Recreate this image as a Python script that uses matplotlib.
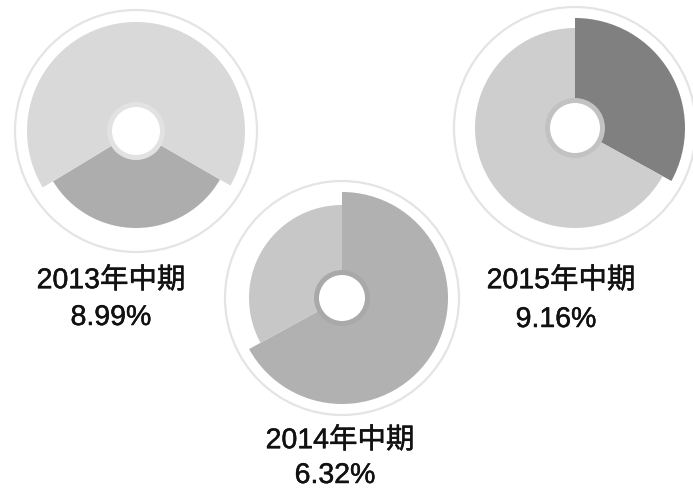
import matplotlib
matplotlib.use("Agg")
import matplotlib.pyplot as plt
import matplotlib.patheffects as pe
from matplotlib.patches import Circle

# ---- data ----
periods = ["2013年中期", "2014年中期", "2015年中期"]
rates = ["8.99%", "6.32%", "9.16%"]
# shares of the two sectors in each ring: [highlighted, rest]
shares = [[33, 67], [67, 33], [33, 67]]

# ---- styling / layout ----
W, H = 693, 491
fig = plt.figure(figsize=(W / 100, H / 100), dpi=100)
ax = fig.add_axes([0, 0, 1, 1])

centers = [(136, H - 131), (342, H - 298), (575, H - 128)]
start_angles = [330, 90, 90]
hi_colors = ["#adadad", "#b1b1b1", "#808080"]
rest_colors = ["#d9d9d9", "#c7c7c7", "#cecece"]
hi_radius = [97, 106, 110]
rest_radius = [109, 93, 100]
outer_radius = [121, 117, 121]
halo_colors = ["#e2e2e2", "#a9a9a9", "#c2c2c2"]
hole_radius = [24, 23, 25]
label_pos = [((111, H - 281), (111, H - 318)),
             ((340, H - 441), (335, H - 476)),
             ((561, H - 281), (556, H - 320))]

font = ["Liberation Sans", "Noto Sans CJK SC"]
stroke = [pe.withStroke(linewidth=0.35, foreground="#111111")]

for i in range(3):
    c = centers[i]
    # outer thin circle
    ax.add_patch(Circle(c, outer_radius[i], facecolor="none",
                        edgecolor="#e4e4e4", lw=1.6, zorder=1))
    # highlighted sector
    ax.pie(shares[i], radius=hi_radius[i], center=c, startangle=start_angles[i],
           counterclock=False, colors=[hi_colors[i], "none"],
           wedgeprops=dict(linewidth=0), frame=True)
    # remaining sector
    ax.pie(shares[i], radius=rest_radius[i], center=c, startangle=start_angles[i],
           counterclock=False, colors=["none", rest_colors[i]],
           wedgeprops=dict(linewidth=0), frame=True)
    # halo and hole
    ax.add_patch(Circle(c, hole_radius[i] + 5, facecolor=halo_colors[i],
                        edgecolor="none", zorder=5))
    ax.add_patch(Circle(c, hole_radius[i], facecolor="white",
                        edgecolor="none", zorder=6))
    (p1, p2) = label_pos[i]
    ax.text(p1[0], p1[1], periods[i], ha="center", va="center", fontsize=20.5,
            color="#111111", family=font, path_effects=stroke)
    ax.text(p2[0], p2[1], rates[i], ha="center", va="center", fontsize=20.5,
            color="#111111", family=font, path_effects=stroke)

ax.set_xlim(0, W)
ax.set_ylim(0, H)
ax.set_aspect("equal")
ax.axis("off")
fig.savefig("out.png", dpi=100, facecolor="white")
